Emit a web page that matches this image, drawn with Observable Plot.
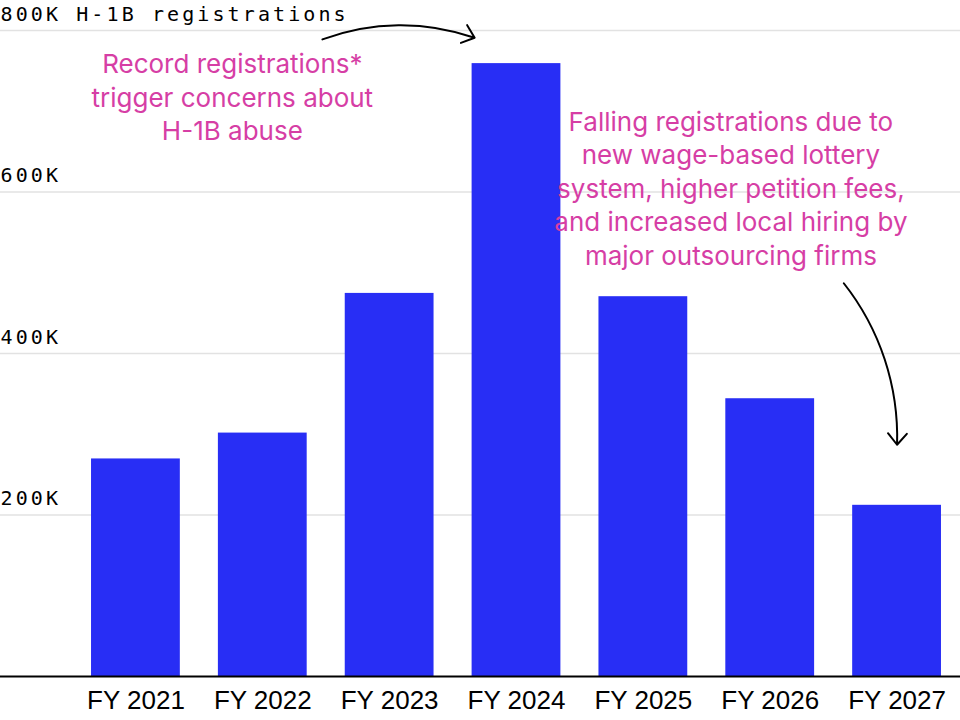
<!DOCTYPE html>
<html>
<head>
<meta charset="utf-8">
<script src="https://cdn.jsdelivr.net/npm/d3@7"></script>
<script src="https://cdn.jsdelivr.net/npm/@observablehq/plot@0.6"></script>
<style>
  body { margin: 0; background: #fff; }
  #chart svg { display: block; }
  #chart g[aria-label="y-axis tick label"] text { letter-spacing: 3.1px; }
</style>
</head>
<body>
<div id="chart"></div>
<script>
// Fiscal years and eligible H-1B cap registrations
const years = [2021, 2022, 2023, 2024, 2025, 2026, 2027];
const registrations = [269424, 301447, 474421, 758994, 470342, 343981, 212000];

// Value axis
const yTicks = [200000, 400000, 600000, 800000];
const yUnitLabel = "H-1B registrations";

// Annotations: text, anchor year, anchor value
const noteTexts = [
  "Record registrations*\ntrigger concerns about\nH-1B abuse",
  "Falling registrations due to\nnew wage-based lottery\nsystem, higher petition fees,\nand increased local hiring by\nmajor outsourcing firms"
];
const noteYears = [2021.76, 2025.69];
const noteValues = [719000, 606000];

// Annotation arrows: start/end in (year, value)
const arrowStartYears = [2022.47, 2026.58];
const arrowStartValues = [789000, 487000];
const arrowEndYears = [2023.67, 2027.0];
const arrowEndValues = [791000, 287000];

const bars = years.map((year, i) => ({year, value: registrations[i]}));
const notes = noteTexts.map((text, i) => ({text, year: noteYears[i], value: noteValues[i]}));
const arrows = arrowStartYears.map((_, i) => ({
  x1: arrowStartYears[i], y1: arrowStartValues[i],
  x2: arrowEndYears[i], y2: arrowEndValues[i]
}));

const BLUE = "#282ef5";
const PINK = "#d63ea5";

const chart = Plot.plot({
  width: 960,
  height: 720,
  marginTop: 30,
  marginBottom: 44,
  marginLeft: 0,
  marginRight: 0,
  style: {background: "#fff", color: "#000"},
  x: {type: "linear", domain: [2020.5, 2027.5], range: [72, 960]},
  y: {domain: [0, 800000]},
  marks: [
    Plot.gridY(yTicks, {stroke: "#e2e2e2", strokeOpacity: 1, strokeWidth: 1.5}),
    Plot.rectY(bars, {
      x1: d => d.year - 0.35,
      x2: d => d.year + 0.35,
      y: "value",
      fill: BLUE
    }),
    Plot.ruleY([0], {stroke: "#000", strokeWidth: 2.2}),
    Plot.text(notes, {
      x: "year",
      y: "value",
      text: "text",
      fill: PINK,
      fontSize: 26,
      fontFamily: "Inter, 'Noto Sans', sans-serif",
      lineHeight: 1.29,
      textAnchor: "middle",
      lineAnchor: "middle"
    }),
    Plot.arrow(arrows, {
      x1: "x1", y1: "y1", x2: "x2", y2: "y2",
      bend: 20,
      stroke: "#000",
      strokeWidth: 2,
      headLength: 11,
      headAngle: 80
    }),
    Plot.axisX(years, {
      tickSize: 0,
      tickPadding: 14,
      tickFormat: d => `FY ${d}`,
      fontSize: 26,
      fontFamily: "'Liberation Sans', Arial, sans-serif",
      fill: "#000"
    }),
    Plot.axisY(yTicks, {
      anchor: "left",
      tickSize: 0,
      tickPadding: 0,
      textAnchor: "start",
      lineAnchor: "bottom",
      dy: -10,
      tickFormat: d => d === 800000 ? `${d / 1000}K ${yUnitLabel}` : `${d / 1000}K`,
      fontSize: 20,
      fontFamily: "'DejaVu Sans Mono', 'Liberation Mono', monospace",
      fill: "#000"
    })
  ]
});

document.getElementById("chart").append(chart);
</script>
</body>
</html>
